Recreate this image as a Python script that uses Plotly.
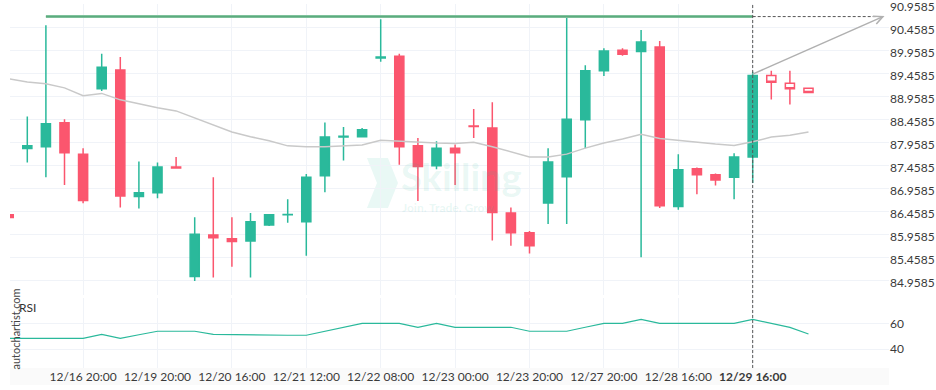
import plotly.graph_objects as go

# ---------------- data ----------------
idx = list(range(44))
opens = [86.39, 87.83, 87.87, 88.39, 87.71, 89.13, 89.54, 86.79, 86.87, 87.43,
         85.05, 85.95, 85.87, 85.82, 86.17, 86.39, 86.24, 87.24, 88.08, 88.09,
         89.80, 89.84, 87.89, 87.46, 87.84, 88.32, 88.28, 86.43, 86.00, 86.65,
         87.22, 88.46, 89.52, 89.97, 89.94, 90.04, 86.57, 87.39, 87.26, 87.21,
         87.65, 89.42, 89.25, 89.14]
highs = [86.40, 88.53, 90.51, 88.47, 87.84, 89.89, 89.82, 87.55, 87.53, 87.65,
         86.34, 87.21, 86.34, 86.43, 86.41, 86.73, 87.28, 88.40, 88.30, 88.28,
         90.64, 89.89, 88.06, 87.99, 87.92, 88.69, 88.84, 86.55, 86.04, 87.84,
         90.69, 89.64, 90.01, 90.01, 90.41, 90.17, 87.71, 87.42, 87.29, 87.73,
         89.50, 89.52, 89.52, 89.14]
lows = [86.32, 87.53, 87.21, 87.04, 86.64, 89.08, 86.55, 86.53, 86.75, 87.39,
        84.95, 85.03, 85.26, 85.03, 86.15, 86.22, 85.50, 86.88, 87.57, 88.07,
        89.72, 87.48, 86.69, 87.38, 87.04, 88.06, 85.83, 85.72, 85.55, 86.19,
        86.19, 87.84, 89.41, 89.85, 85.47, 86.54, 86.50, 86.84, 87.03, 86.73,
        87.08, 88.90, 88.79, 89.05]
closes = [86.33, 87.89, 88.37, 87.74, 86.70, 89.60, 86.80, 86.87, 87.43, 87.41,
          85.97, 85.89, 85.81, 86.24, 86.39, 86.40, 87.21, 88.08, 88.10, 88.24,
          89.82, 87.87, 87.44, 87.84, 87.74, 88.31, 86.44, 86.00, 85.72, 87.54,
          88.47, 89.52, 89.95, 89.88, 90.15, 86.59, 87.37, 87.26, 87.15, 87.65,
          89.42, 89.27, 89.13, 89.05]
sma = [89.35, 89.28, 89.24, 89.15, 88.98, 89.03, 88.89, 88.80, 88.72, 88.65,
       88.50, 88.34, 88.19, 88.09, 88.00, 87.89, 87.87, 87.87, 87.89, 87.91,
       88.01, 87.99, 87.96, 87.95, 87.94, 87.97, 87.87, 87.76, 87.65, 87.65,
       87.71, 87.84, 87.95, 88.04, 88.14, 88.05, 88.01, 87.96, 87.93, 87.90,
       87.98, 88.08, 88.12, 88.19]
rsi = [48.3, 48.3, 48.3, 48.3, 48.3, 51.4, 48.3, 51.1, 53.8, 53.8,
       53.8, 51.4, 51.2, 50.7, 50.7, 50.7, 50.7, 53.8, 56.9, 60.0,
       60.0, 60.0, 56.9, 60.0, 56.9, 56.9, 56.9, 56.9, 53.8, 53.8,
       53.8, 56.9, 60.0, 60.0, 63.1, 60.0, 60.0, 60.0, 60.0, 60.0,
       63.1, 60.0, 56.8, 51.7]
n_filled = 41  # last three candles are still forming (hollow)

tick_idx = [4, 8, 12, 16, 20, 24, 28, 32, 36, 40]
tick_labels = ["12/16 20:00", "12/19 20:00", "12/20 16:00", "12/21 12:00",
               "12/22 08:00", "12/23 00:00", "12/23 20:00", "12/27 20:00",
               "12/28 16:00", "<b>12/29 16:00</b>"]
price_ticks = [84.9585 + 0.5 * k for k in range(13)]
price_tick_labels = [f"{v:.4f}" for v in price_ticks]
rsi_ticks = [40, 60]

level_price = 90.70       # resistance level
level_start = 2
signal_idx = 40
signal_price = 89.45
target_idx = 47.0
target_price = 90.70

GREEN = "#2ab99b"
RED = "#fb566e"
FONT = "Lato"

fig = go.Figure()

fig.add_trace(go.Candlestick(
    x=idx[:n_filled], open=opens[:n_filled], high=highs[:n_filled],
    low=lows[:n_filled], close=closes[:n_filled],
    increasing=dict(line=dict(color=GREEN, width=1.5), fillcolor=GREEN),
    decreasing=dict(line=dict(color=RED, width=1.5), fillcolor=RED),
    xaxis="x", yaxis="y", showlegend=False, hoverinfo="skip"))
fig.add_trace(go.Candlestick(
    x=idx[n_filled:], open=opens[n_filled:], high=highs[n_filled:],
    low=lows[n_filled:], close=closes[n_filled:],
    increasing=dict(line=dict(color=GREEN, width=1.5), fillcolor="white"),
    decreasing=dict(line=dict(color=RED, width=1.5), fillcolor="white"),
    xaxis="x", yaxis="y", showlegend=False, hoverinfo="skip"))
fig.add_trace(go.Scatter(x=idx, y=sma, mode="lines",
                         line=dict(color="#c9c9c9", width=1.5),
                         xaxis="x", yaxis="y", showlegend=False, hoverinfo="skip"))
fig.add_trace(go.Scatter(x=idx, y=rsi, mode="lines",
                         line=dict(color=GREEN, width=1.2),
                         xaxis="x", yaxis="y2", showlegend=False, hoverinfo="skip"))

# ---------------- geometry helpers ----------------
W, H = 936, 390
ML, MR, MT, MB = 10, 47, 4, 22
PW, PH = W - ML - MR, H - MT - MB


def px_x(px):
    return (px - ML) / PW


def px_y(py):
    return (H - MB - py) / PH


shapes = []
# x-axis band
shapes.append(dict(type="rect", xref="paper", yref="paper", x0=0, x1=1,
                   y0=px_y(385), y1=0, fillcolor="#fafafa", line=dict(width=0),
                   layer="below"))
# watermark chevron
pts = [(367, 158), (388, 158), (398, 183), (388, 208), (367, 208), (377, 183)]
path = "M " + " L ".join(f"{px_x(a):.4f},{px_y(b):.4f}" for a, b in pts) + " Z"
shapes.append(dict(type="path", xref="paper", yref="paper", path=path,
                   fillcolor="rgba(42,185,155,0.10)", line=dict(width=0),
                   layer="below"))
# resistance level
shapes.append(dict(type="line", xref="x", yref="y", x0=level_start, x1=signal_idx,
                   y0=level_price, y1=level_price,
                   line=dict(color="#7fc29b", width=3)))
shapes.append(dict(type="line", xref="x", yref="y", x0=level_start, x1=signal_idx,
                   y0=level_price, y1=level_price,
                   line=dict(color="#5aa97d", width=1)))
# dashed projection line
shapes.append(dict(type="line", xref="x", yref="y", x0=signal_idx, x1=target_idx,
                   y0=target_price, y1=target_price,
                   line=dict(color="#555555", width=1, dash="3px,2px")))
# vertical dashed line at signal candle
shapes.append(dict(type="line", xref="x", yref="paper", x0=signal_idx, x1=signal_idx,
                   y0=0, y1=1, line=dict(color="#555555", width=1, dash="3px,2px")))
# arrow
shapes.append(dict(type="line", xref="x", yref="y", x0=signal_idx, x1=target_idx,
                   y0=signal_price, y1=target_price,
                   line=dict(color="#b0b0b0", width=1.5)))
shapes.append(dict(type="path", xref="x", yref="y", xsizemode="pixel",
                   ysizemode="pixel", xanchor=target_idx, yanchor=target_price,
                   path="M -10,0.3 L 0,0 L -6.6,-7.5",
                   line=dict(color="#b0b0b0", width=1.5)))

annotations = [
    dict(text="<b>Skilling</b>", xref="paper", yref="paper", x=px_x(399), y=px_y(176),
         xanchor="left", yanchor="middle", showarrow=False,
         font=dict(family=FONT, size=38, color="rgba(42,185,155,0.11)")),
    dict(text="<b>Join. Trade. Grow.</b>", xref="paper", yref="paper", x=px_x(400),
         y=px_y(207), xanchor="left", yanchor="middle", showarrow=False,
         font=dict(family=FONT, size=12, color="rgba(42,185,155,0.11)")),
    dict(text="RSI", xref="paper", yref="paper", x=px_x(17), y=px_y(307.5),
         xanchor="left", yanchor="middle", showarrow=False,
         font=dict(family=FONT, size=12, color="#333333")),
    dict(text="autochartist.com", xref="paper", yref="paper", x=px_x(15),
         y=px_y(329.5), xanchor="center", yanchor="middle", showarrow=False,
         textangle=-90, font=dict(family=FONT, size=11, color="#444444")),
]

# price axis: 90.9585 at y=4.7px, 46 px per unit
price_top = 90.9585 + (4.7 - MT) / 46
price_bottom_px = 295
price_bottom = 90.9585 - (price_bottom_px - 4.7) / 46
# rsi axis: 60 at 323.3px, 40 at 349px
rsi_ppu = (349 - 323.3) / 20
rsi_top_px = 298
rsi_top = 60 + (323.3 - rsi_top_px) / rsi_ppu
rsi_bottom = 40 - (H - MB - 349) / rsi_ppu

x_left = (ML - 8.7) / 18.6
x_right = (W - MR - 8.7) / 18.6

fig.update_layout(
    width=W, height=H,
    margin=dict(l=ML, r=MR, t=MT, b=MB, autoexpand=False),
    paper_bgcolor="white", plot_bgcolor="white",
    font=dict(family=FONT, size=12, color="#333333"),
    showlegend=False,
    xaxis=dict(range=[x_left, x_right], anchor="y2", tickvals=tick_idx,
               ticktext=tick_labels, showgrid=True, gridcolor="#f0f3f8",
               zeroline=False, showline=False, ticks="", tickangle=0,
               automargin=False, rangeslider=dict(visible=False),
               tickfont=dict(family=FONT, size=12, color="#3a3a3a")),
    yaxis=dict(domain=[px_y(price_bottom_px), 1], range=[price_bottom, price_top],
               side="right", anchor="x", tickvals=price_ticks,
               ticktext=price_tick_labels, showgrid=True, gridcolor="#f0f3f8",
               zeroline=False, ticks="", automargin=False,
               ticklabeloverflow="allow", ticklabelshift=2,
               tickfont=dict(family=FONT, size=12, color="#3a3a3a")),
    yaxis2=dict(domain=[0, px_y(rsi_top_px)], range=[rsi_bottom, rsi_top],
                side="right", anchor="x", tickvals=rsi_ticks,
                showgrid=True, gridcolor="#f0f3f8", zeroline=False, ticks="",
                automargin=False,
                tickfont=dict(family=FONT, size=12, color="#3a3a3a")),
    shapes=shapes, annotations=annotations,
)

fig.write_html("out.html")
